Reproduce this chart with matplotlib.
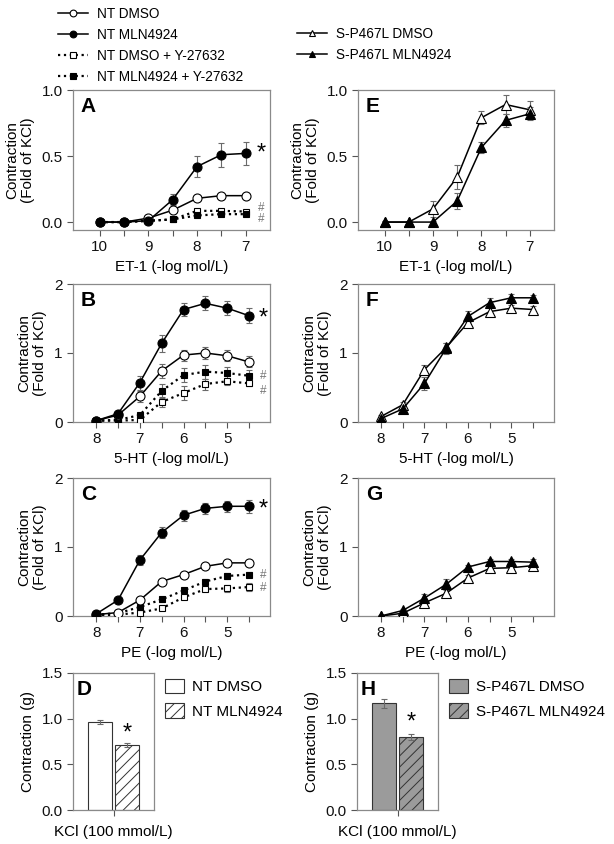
import matplotlib
matplotlib.use("Agg")
import matplotlib.pyplot as plt
import numpy as np

plt.rcParams['font.family'] = ['Liberation Sans', 'DejaVu Sans']
plt.rcParams['hatch.linewidth'] = 0.7

# ---------------- data ----------------
et1_x = [10, 9.5, 9, 8.5, 8, 7.5, 7]
agonist_x = [8, 7.5, 7, 6.5, 6, 5.5, 5, 4.5]

# Panel A (ET-1, NT)
A_nt_dmso = [0.0, 0.0, 0.03, 0.09, 0.18, 0.20, 0.20]
A_nt_dmso_err = [0.005, 0.005, 0.01, 0.015, 0.01, 0.01, 0.01]
A_nt_mln = [0.0, 0.0, 0.01, 0.17, 0.42, 0.51, 0.52]
A_nt_mln_err = [0.005, 0.005, 0.01, 0.04, 0.08, 0.09, 0.09]
A_nt_dmso_y = [0.0, 0.0, 0.01, 0.02, 0.085, 0.085, 0.08]
A_nt_dmso_y_err = [0.005, 0.005, 0.005, 0.01, 0.01, 0.01, 0.01]
A_nt_mln_y = [0.0, 0.0, 0.01, 0.02, 0.05, 0.06, 0.06]
A_nt_mln_y_err = [0.005, 0.005, 0.005, 0.01, 0.01, 0.01, 0.01]

# Panel E (ET-1, S-P467L)
E_sp_dmso = [0.0, 0.0, 0.10, 0.34, 0.79, 0.89, 0.85]
E_sp_dmso_err = [0.005, 0.005, 0.06, 0.09, 0.05, 0.07, 0.07]
E_sp_mln = [0.0, 0.0, 0.0, 0.16, 0.565, 0.77, 0.82]
E_sp_mln_err = [0.005, 0.005, 0.005, 0.06, 0.04, 0.05, 0.05]

# Panel B (5-HT, NT)
B_nt_dmso = [0.02, 0.10, 0.37, 0.74, 0.97, 1.00, 0.96, 0.87]
B_nt_dmso_err = [0.02, 0.03, 0.08, 0.10, 0.08, 0.08, 0.08, 0.08]
B_nt_mln = [0.02, 0.12, 0.57, 1.14, 1.63, 1.72, 1.65, 1.54]
B_nt_mln_err = [0.02, 0.03, 0.10, 0.12, 0.10, 0.10, 0.10, 0.11]
B_nt_dmso_y = [0.02, 0.02, 0.03, 0.29, 0.42, 0.55, 0.59, 0.56]
B_nt_dmso_y_err = [0.01, 0.01, 0.01, 0.07, 0.10, 0.08, 0.05, 0.04]
B_nt_mln_y = [0.02, 0.03, 0.10, 0.45, 0.68, 0.73, 0.71, 0.67]
B_nt_mln_y_err = [0.01, 0.01, 0.02, 0.10, 0.10, 0.10, 0.08, 0.08]

# Panel F (5-HT, S-P467L)
F_sp_dmso = [0.08, 0.25, 0.76, 1.08, 1.44, 1.60, 1.65, 1.63]
F_sp_dmso_err = [0.02, 0.04, 0.07, 0.07, 0.06, 0.06, 0.05, 0.05]
F_sp_mln = [0.05, 0.19, 0.56, 1.07, 1.53, 1.73, 1.80, 1.80]
F_sp_mln_err = [0.02, 0.05, 0.09, 0.08, 0.08, 0.07, 0.05, 0.04]

# Panel C (PE, NT)
C_nt_dmso = [0.02, 0.05, 0.23, 0.50, 0.60, 0.72, 0.77, 0.77]
C_nt_dmso_err = [0.01, 0.01, 0.02, 0.02, 0.02, 0.02, 0.02, 0.02]
C_nt_mln = [0.03, 0.23, 0.81, 1.21, 1.46, 1.56, 1.59, 1.59]
C_nt_mln_err = [0.01, 0.03, 0.07, 0.08, 0.08, 0.08, 0.08, 0.09]
C_nt_dmso_y = [0.01, 0.02, 0.05, 0.11, 0.27, 0.39, 0.40, 0.42]
C_nt_dmso_y_err = [0.01, 0.01, 0.01, 0.02, 0.03, 0.03, 0.05, 0.06]
C_nt_mln_y = [0.02, 0.04, 0.13, 0.24, 0.37, 0.50, 0.58, 0.60]
C_nt_mln_y_err = [0.01, 0.01, 0.02, 0.04, 0.04, 0.04, 0.04, 0.04]

# Panel G (PE, S-P467L)
G_sp_dmso = [0.0, 0.04, 0.19, 0.33, 0.55, 0.69, 0.70, 0.73]
G_sp_dmso_err = [0.01, 0.02, 0.06, 0.05, 0.04, 0.03, 0.03, 0.03]
G_sp_mln = [0.0, 0.08, 0.26, 0.46, 0.71, 0.79, 0.79, 0.78]
G_sp_mln_err = [0.01, 0.02, 0.06, 0.07, 0.03, 0.04, 0.04, 0.04]

# Panels D and H (KCl, grams)
D_labels = ['NT DMSO', 'NT MLN4924']
D_vals = [0.96, 0.71]
D_err = [0.02, 0.02]
H_labels = ['S-P467L DMSO', 'S-P467L MLN4924']
H_vals = [1.17, 0.80]
H_err = [0.05, 0.03]

# ---------------- style ----------------
FS = 11
LFS = 9.8
W, H = 614, 844
fig = plt.figure(figsize=(W / 100, H / 100), dpi=100)

def ax_px(left, top, right, bottom):
    return fig.add_axes([left / W, 1 - bottom / H, (right - left) / W, (bottom - top) / H])

FRAME = '#8a8a8a'
ECOL = '#6a6a6a'

def style(ax):
    for s in ax.spines.values():
        s.set_color(FRAME)
        s.set_linewidth(0.9)
    ax.tick_params(axis='both', which='both', colors='#555555', labelcolor='#111111',
                   labelsize=FS, direction='out', width=0.8)
    ax.tick_params(axis='both', which='major', length=4)
    ax.tick_params(axis='x', which='minor', length=4)

def series(ax, x, y, e, marker, filled, ls, ms, lab=None):
    ax.errorbar(x, y, yerr=e, fmt='none', ecolor=ECOL, elinewidth=0.8, capsize=2.5,
                capthick=0.8, zorder=2)
    line, = ax.plot(x, y, color='black', linestyle=ls, lw=1.1 if ls == '-' else 1.6,
                    marker=marker, ms=ms, mfc='black' if filled else 'white',
                    mec='black', mew=0.8, zorder=3, label=lab)
    return line

def letter(ax, t):
    ax.text(0.04, 0.95, t, transform=ax.transAxes, fontsize=15, fontweight='bold',
            va='top', ha='left')

LX = (73, 270)
RX = (358, 554)
ROWS = [(90, 230), (284, 422), (478, 616)]

axA = ax_px(LX[0], ROWS[0][0], LX[1], ROWS[0][1])
axE = ax_px(RX[0], ROWS[0][0], RX[1], ROWS[0][1])
axB = ax_px(LX[0], ROWS[1][0], LX[1], ROWS[1][1])
axF = ax_px(RX[0], ROWS[1][0], RX[1], ROWS[1][1])
axC = ax_px(LX[0], ROWS[2][0], LX[1], ROWS[2][1])
axG = ax_px(RX[0], ROWS[2][0], RX[1], ROWS[2][1])

ylab = 'Contraction\n(Fold of KCl)'

# ----- A -----
hA = [
    series(axA, et1_x, A_nt_dmso_y, A_nt_dmso_y_err, 's', False, ':', 5, 'NT DMSO + Y-27632'),
    series(axA, et1_x, A_nt_mln_y, A_nt_mln_y_err, 's', True, ':', 5, 'NT MLN4924 + Y-27632'),
    series(axA, et1_x, A_nt_dmso, A_nt_dmso_err, 'o', False, '-', 6.5, 'NT DMSO'),
    series(axA, et1_x, A_nt_mln, A_nt_mln_err, 'o', True, '-', 6.5, 'NT MLN4924'),
]
# ----- E -----
hE = [
    series(axE, et1_x, E_sp_dmso, E_sp_dmso_err, '^', False, '-', 6.5, 'S-P467L DMSO'),
    series(axE, et1_x, E_sp_mln, E_sp_mln_err, '^', True, '-', 6.5, 'S-P467L MLN4924'),
]
for ax in (axA, axE):
    ax.set_xlim(10.55, 6.5)
    ax.set_ylim(-0.06, 1.0)
    ax.set_xticks([10, 9, 8, 7])
    ax.set_xticks(et1_x, minor=True)
    ax.set_yticks([0.0, 0.5, 1.0])
    ax.set_yticklabels(['0.0', '0.5', '1.0'])
    ax.set_xlabel('ET-1 (-log mol/L)', fontsize=FS, labelpad=4)

# ----- B -----
series(axB, agonist_x, B_nt_dmso_y, B_nt_dmso_y_err, 's', False, ':', 5)
series(axB, agonist_x, B_nt_mln_y, B_nt_mln_y_err, 's', True, ':', 5)
series(axB, agonist_x, B_nt_dmso, B_nt_dmso_err, 'o', False, '-', 6.5)
series(axB, agonist_x, B_nt_mln, B_nt_mln_err, 'o', True, '-', 6.5)
# ----- F -----
series(axF, agonist_x, F_sp_dmso, F_sp_dmso_err, '^', False, '-', 6.5)
series(axF, agonist_x, F_sp_mln, F_sp_mln_err, '^', True, '-', 6.5)
# ----- C -----
series(axC, agonist_x, C_nt_dmso_y, C_nt_dmso_y_err, 's', False, ':', 5)
series(axC, agonist_x, C_nt_mln_y, C_nt_mln_y_err, 's', True, ':', 5)
series(axC, agonist_x, C_nt_dmso, C_nt_dmso_err, 'o', False, '-', 6.5)
series(axC, agonist_x, C_nt_mln, C_nt_mln_err, 'o', True, '-', 6.5)
# ----- G -----
series(axG, agonist_x, G_sp_dmso, G_sp_dmso_err, '^', False, '-', 6.5)
series(axG, agonist_x, G_sp_mln, G_sp_mln_err, '^', True, '-', 6.5)

for ax, xl in ((axB, '5-HT (-log mol/L)'), (axF, '5-HT (-log mol/L)'),
               (axC, 'PE (-log mol/L)'), (axG, 'PE (-log mol/L)')):
    ax.set_xlim(8.53, 4.02)
    ax.set_ylim(0, 2)
    ax.set_xticks([8, 7, 6, 5])
    ax.set_xticks(agonist_x, minor=True)
    ax.set_yticks([0, 1, 2])
    ax.set_xlabel(xl, fontsize=FS, labelpad=4)

for ax, t in ((axA, 'A'), (axB, 'B'), (axC, 'C'), (axE, 'E'), (axF, 'F'), (axG, 'G')):
    style(ax)
    letter(ax, t)
    ax.set_ylabel(ylab, fontsize=FS, labelpad=5, linespacing=1.15)

# significance marks
SG = dict(fontsize=8.5, color='#777777', ha='center', va='center')
axA.text(6.68, 0.52, '*', fontsize=17, ha='center', va='center')
axA.text(6.68, 0.11, '#', **SG)
axA.text(6.68, 0.025, '#', **SG)
axB.text(4.18, 1.50, '*', fontsize=17, ha='center', va='center')
axB.text(4.18, 0.66, '#', **SG)
axB.text(4.18, 0.45, '#', **SG)
axC.text(4.18, 1.55, '*', fontsize=17, ha='center', va='center')
axC.text(4.18, 0.60, '#', **SG)
axC.text(4.18, 0.40, '#', **SG)

# ----- D and H -----
axD = ax_px(73, 673, 154, 810)
axH = ax_px(357, 673, 438, 810)
bar_x = [-0.52, 0.52]
EKW = dict(ecolor=ECOL, elinewidth=0.8, capsize=2.5, capthick=0.8)
bd = axD.bar(bar_x, D_vals, width=0.96, yerr=D_err, color=['white', 'white'],
             edgecolor='#333333', linewidth=0.8, error_kw=EKW)
bd[1].set_hatch('///')
bh = axH.bar(bar_x, H_vals, width=0.96, yerr=H_err, color=['#9b9b9b', '#9b9b9b'],
             edgecolor='#333333', linewidth=0.8, error_kw=EKW)
bh[1].set_hatch('///')
bd[0].set_label(D_labels[0]); bd[1].set_label(D_labels[1])
bh[0].set_label(H_labels[0]); bh[1].set_label(H_labels[1])

for ax, t, bars in ((axD, 'D', bd), (axH, 'H', bh)):
    style(ax)
    ax.set_xlim(-1.56, 1.56)
    ax.set_ylim(0, 1.5)
    ax.set_yticks([0.0, 0.5, 1.0, 1.5])
    ax.set_yticklabels(['0.0', '0.5', '1.0', '1.5'])
    ax.set_xticks([0])
    ax.set_xticklabels([''])
    ax.set_xlabel('KCl (100 mmol/L)', fontsize=FS, labelpad=3)
    ax.set_ylabel('Contraction (g)', fontsize=FS, labelpad=5)
    letter(ax, t)
    ax.legend(handles=list(bars), loc='upper left', bbox_to_anchor=(1.1, 0.98),
              frameon=False, fontsize=FS, handlelength=1.25, handleheight=1.1,
              labelspacing=0.6, handletextpad=0.5, borderpad=0.2, borderaxespad=0)

axD.text(0.52, 0.84, '*', fontsize=17, ha='center', va='center')
axH.text(0.52, 0.96, '*', fontsize=17, ha='center', va='center')

# ----- top legends -----
LKW = dict(loc='upper left', frameon=False, fontsize=LFS, handlelength=2.2,
           handletextpad=0.65, labelspacing=0.52, borderpad=0, borderaxespad=0,
           markerscale=0.75)
order = [hA[2], hA[3], hA[0], hA[1]]
fig.legend(handles=order, bbox_to_anchor=(58 / W, 1 - 7 / H), **LKW)
fig.legend(handles=hE, bbox_to_anchor=(297 / W, 1 - 27 / H), **LKW)

fig.savefig('out.png', dpi=100)
